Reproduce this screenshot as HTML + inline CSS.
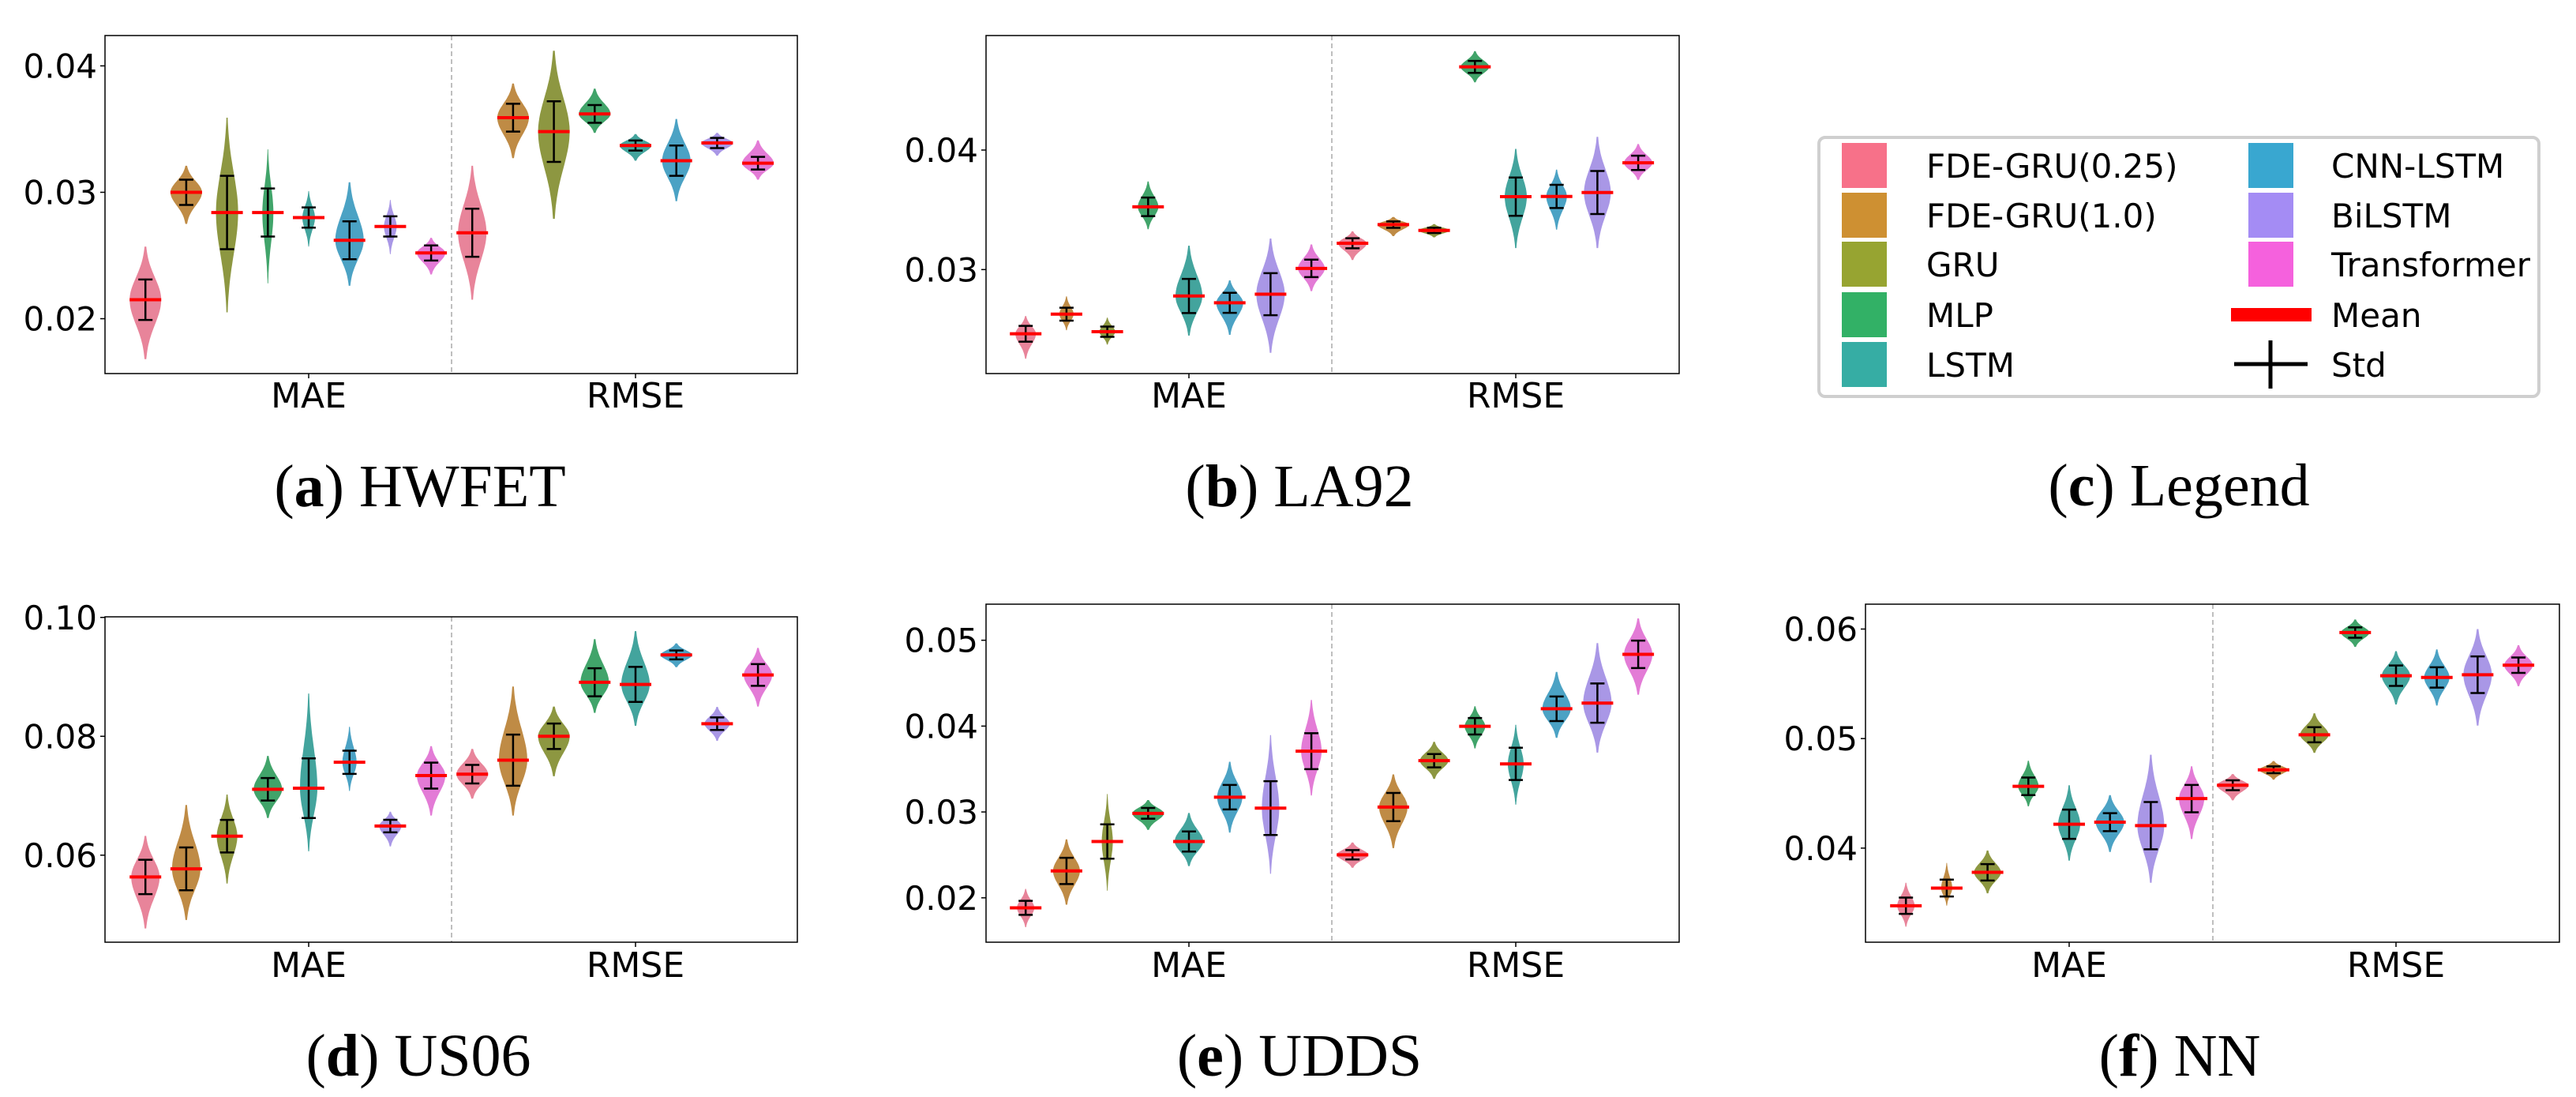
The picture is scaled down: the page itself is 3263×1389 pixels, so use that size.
<!DOCTYPE html>
<html><head><meta charset="utf-8"><style>
html,body{margin:0;padding:0;background:#fff;}
svg{display:block;}
</style></head><body>
<svg id="fig" width="3263" height="1389" viewBox="0 0 3263 1389" xmlns="http://www.w3.org/2000/svg">
<rect width="3263" height="1389" fill="#fff"/>
<g id="legend">
 <rect x="2304" y="174" width="912" height="328" rx="8" fill="#fff" stroke="#cfcfcf" stroke-width="4"/>
</g>
</svg>
<script>
// ---- data (index 0-7: MAE hues, 8-15: RMSE hues) ----
const models = ['FDE-GRU(0.25)','FDE-GRU(1.0)','GRU','MLP','LSTM','CNN-LSTM','BiLSTM','Transformer'];
const metrics = ['MAE','RMSE'];
const captions = ['HWFET','LA92','US06','UDDS','NN'];
const captionLetters = ['a','b','d','e','f'];

const aMean=[0.0215,0.0300,0.0284,0.0284,0.0280,0.0262,0.0273,0.0252, 0.0268,0.0359,0.0348,0.0362,0.0337,0.0325,0.0339,0.0323];
const aStd =[0.0016,0.0010,0.0029,0.0019,0.0008,0.0015,0.0008,0.0006, 0.0019,0.0011,0.0024,0.0007,0.0004,0.0012,0.0004,0.0005];
const aHi  =[0.0257,0.0321,0.0359,0.0334,0.0301,0.0308,0.0294,0.0264, 0.0321,0.0386,0.0412,0.0382,0.0346,0.0358,0.0347,0.0341];
const aLo  =[0.0168,0.0275,0.0205,0.0228,0.0257,0.0226,0.0251,0.0235, 0.0215,0.0327,0.0279,0.0347,0.0325,0.0293,0.0329,0.0310];
const aDen =[1.0,1.0,0.7,0.35,0.4,0.9,0.4,0.9, 0.9,1.0,1.0,1.0,1.0,0.9,1.0,1.0];

const bMean=[0.02463,0.02627,0.0248,0.03525,0.02779,0.02722,0.02794,0.0301, 0.0322,0.03376,0.03328,0.04696,0.0361,0.03612,0.03645,0.03893];
const bStd =[0.00066,0.00054,0.00043,0.00078,0.00143,0.00084,0.00176,0.00073, 0.00042,0.00027,0.00022,0.0005,0.0016,0.00097,0.0018,0.0006];
const bHi  =[0.02612,0.02776,0.02597,0.03737,0.0320,0.0291,0.0326,0.0321, 0.0332,0.0344,0.0338,0.04827,0.0401,0.03836,0.0411,0.0405];
const bLo  =[0.02254,0.02493,0.02373,0.03337,0.02448,0.02454,0.02304,0.0282, 0.0308,0.0328,0.0327,0.04567,0.0318,0.03334,0.0318,0.0375];
const bDen =[0.65,0.45,0.5,0.65,0.85,0.85,0.9,0.85, 0.9,1.0,1.0,0.9,0.7,0.65,0.85,0.9];

const dMean=[0.05634,0.0577,0.06319,0.07109,0.07127,0.07563,0.0649,0.07339, 0.07363,0.07599,0.0800,0.08909,0.08873,0.09369,0.08212,0.09032];
const dStd =[0.00289,0.0036,0.00274,0.00189,0.00501,0.00195,0.00106,0.00218, 0.00156,0.0043,0.00214,0.00236,0.00295,0.00074,0.00106,0.00183];
const dHi  =[0.06324,0.06844,0.07021,0.0767,0.0872,0.0816,0.06732,0.07835, 0.07788,0.08838,0.08501,0.09634,0.0977,0.09563,0.08496,0.09487];
const dLo  =[0.04767,0.04909,0.05522,0.06625,0.06065,0.0708,0.06147,0.06667, 0.0695,0.06667,0.07327,0.08395,0.08177,0.09162,0.07923,0.08501];
const dDen =[0.9,0.9,0.65,0.9,0.55,0.45,0.7,0.9, 1.0,0.9,1.0,0.9,0.9,1.0,0.8,0.9];

const eMean=[0.01883,0.02313,0.02656,0.02984,0.02656,0.03172,0.03045,0.03708, 0.02501,0.03057,0.03597,0.03998,0.0356,0.04202,0.04268,0.04836];
const eStd =[0.00082,0.00153,0.0020,0.00063,0.00117,0.00143,0.00313,0.00209, 0.00055,0.00164,0.00078,0.00096,0.00188,0.00143,0.00229,0.0016];
const eHi  =[0.02104,0.02681,0.03209,0.03139,0.02988,0.03585,0.03896,0.04305, 0.02644,0.03438,0.03818,0.04231,0.04014,0.04632,0.04967,0.05254];
const eLo  =[0.01658,0.0192,0.02084,0.02791,0.0237,0.02759,0.0228,0.03192, 0.0235,0.02579,0.03384,0.0374,0.03086,0.03863,0.03691,0.04366];
const eDen =[0.55,0.85,0.35,1.0,0.9,0.8,0.55,0.65, 1.0,0.9,0.9,0.65,0.5,0.9,0.9,0.9];

const fMean=[0.03474,0.03635,0.03779,0.04564,0.04218,0.04237,0.04205,0.04452, 0.04574,0.04715,0.05035,0.05968,0.05574,0.05558,0.05583,0.0567];
const fStd =[0.00074,0.00077,0.00075,0.0008,0.00133,0.00082,0.00216,0.00125, 0.00045,0.00031,0.00069,0.00047,0.00093,0.00093,0.00167,0.0007];
const fHi  =[0.03683,0.03865,0.03978,0.04798,0.04574,0.04484,0.04853,0.04747, 0.04676,0.04795,0.05231,0.06087,0.05798,0.05814,0.0600,0.05853];
const fLo  =[0.03282,0.03474,0.03587,0.04381,0.03885,0.03965,0.03683,0.04083, 0.04436,0.04625,0.04869,0.05837,0.05311,0.05301,0.05119,0.05478];
const fDen =[0.55,0.35,0.85,0.65,0.7,0.9,0.85,0.8, 1.0,0.9,0.9,0.9,0.9,0.8,0.9,0.9];

const aTicks=[0.02,0.03,0.04]; const aTickLabels=['0.02','0.03','0.04'];
const bTicks=[0.03,0.04]; const bTickLabels=['0.03','0.04'];
const dTicks=[0.06,0.08,0.10]; const dTickLabels=['0.06','0.08','0.10'];
const eTicks=[0.02,0.03,0.04,0.05]; const eTickLabels=['0.02','0.03','0.04','0.05'];
const fTicks=[0.04,0.05,0.06]; const fTickLabels=['0.04','0.05','0.06'];

const colors=['#e8849a','#bf8b45','#8d9741','#41a46a','#43a49d','#4ba2c4','#a997e6','#e37bd6'];
const legendColors=['#f77189','#ce9032','#97a431','#32b166','#36ada4','#39a7d0','#a48cf4','#f561dd'];

const NS='http://www.w3.org/2000/svg';
const svg=document.getElementById('fig');
function mk(tag,attrs,parent){const e=document.createElementNS(NS,tag);for(const k in attrs)e.setAttribute(k,attrs[k]);(parent||svg).appendChild(e);return e;}

const panels=[
 {id:'hwfet',x0:133,x1:1010,y0:45,y1:473,yMin:0.01566,yMax:0.0424,div:572,c:[391,805],capX:532,capY:641,labY:514,mean:aMean,std:aStd,hi:aHi,lo:aLo,den:aDen,ticks:aTicks,tl:aTickLabels},
 {id:'la92',x0:1249,x1:2127,y0:45,y1:473,yMin:0.02130,yMax:0.04958,div:1687,c:[1506,1920],capX:1646,capY:641,labY:514,mean:bMean,std:bStd,hi:bHi,lo:bLo,den:bDen,ticks:bTicks,tl:bTickLabels},
 {id:'us06',x0:133,x1:1010,y0:781,y1:1193,yMin:0.04536,yMax:0.1001,div:572,c:[391,805],capX:530,capY:1362,labY:1235,mean:dMean,std:dStd,hi:dHi,lo:dLo,den:dDen,ticks:dTicks,tl:dTickLabels},
 {id:'udds',x0:1249,x1:2127,y0:765,y1:1193,yMin:0.01483,yMax:0.05420,div:1687,c:[1506,1920],capX:1646,capY:1362,labY:1235,mean:eMean,std:eStd,hi:eHi,lo:eLo,den:eDen,ticks:eTicks,tl:eTickLabels},
 {id:'nn',x0:2363,x1:3242,y0:765,y1:1193,yMin:0.03141,yMax:0.06227,div:2803,c:[2621,3035],capX:2761,capY:1362,labY:1235,mean:fMean,std:fStd,hi:fHi,lo:fLo,den:fDen,ticks:fTicks,tl:fTickLabels}
];
const SP=51.7, MAXW=20;

panels.forEach((p,pi)=>{
 const g=mk('g',{});
 
 
 const Y=v=>p.y1-(v-p.yMin)/(p.yMax-p.yMin)*(p.y1-p.y0);
 // divider
 const dv=mk('line',{x1:p.div,x2:p.div,y1:p.y0,y2:p.y1,stroke:'#aaa','stroke-width':1.5,'stroke-dasharray':'6,4'},g);
 
 
 // violins
 for(let k=0;k<16;k++){
  const grp=k<8?0:1, h=k%8;
  const cx=p.c[grp]+(h-4)*SP;
  const m=p.mean[k], lo=p.lo[k], hi=p.hi[k], W=p.den[k]*MAXW;
  const su=(hi-m)/2.4, sd=(m-lo)/2.4;
  const N=40, right=[], left=[];
  for(let i=0;i<=N;i++){
   const v=lo+(hi-lo)*i/N;
   const s=v>m?su:sd;
   const w=W*Math.exp(-0.5*Math.pow((v-m)/s,2));
   right.push([cx+w,Y(v)]); left.push([cx-w,Y(v)]);
  }
  const pts=right.concat(left.reverse()).map(q=>q[0].toFixed(1)+','+q[1].toFixed(1)).join(' ');
  const vi=mk('polygon',{points:pts,fill:colors[h]},g);
  
  
  const top=Y(m+p.std[k]), bot=Y(m-p.std[k]);
  const sb=mk('path',{d:`M${cx},${top}V${bot}M${cx-9},${top}H${cx+9}M${cx-9},${bot}H${cx+9}`,stroke:'#000','stroke-width':2.5,fill:'none'},g);
  
  
  const ml=mk('line',{x1:cx-20,x2:cx+20,y1:Y(m),y2:Y(m),stroke:'#ff0000','stroke-width':4},g);
  
  
 }
 // axes box
 const bx=mk('rect',{x:p.x0,y:p.y0,width:p.x1-p.x0,height:p.y1-p.y0,fill:'none',stroke:'#000','stroke-width':1.5},g);
 
 
 // y ticks
 p.ticks.forEach((t,i)=>{
  const y=Y(t);
  mk('line',{x1:p.x0-6,x2:p.x0,y1:y,y2:y,stroke:'#000','stroke-width':1.5},g);
  const tx=mk('text',{x:p.x0-10,y:y+15,'text-anchor':'end','font-family':'DejaVu Sans, Liberation Sans, sans-serif','font-size':42},g);
  tx.textContent=p.tl[i];
  
  
 });
 // x labels
 metrics.forEach((mt,i)=>{
  mk('line',{x1:p.c[i],x2:p.c[i],y1:p.y1,y2:p.y1+6,stroke:'#000','stroke-width':1.5},g);
  const tx=mk('text',{x:p.c[i],y:p.labY+2,'text-anchor':'middle','font-family':'DejaVu Sans, Liberation Sans, sans-serif','font-size':44},g);
  tx.textContent=mt;
  
  
 });
 // caption
 const cap=mk('text',{x:p.capX,y:p.capY,'text-anchor':'middle','font-family':'Liberation Serif, serif','font-size':76},g);
 
 
 cap.innerHTML='(<tspan font-weight="bold">'+captionLetters[pi]+'</tspan>) '+captions[pi];
});

// legend
const lg=document.getElementById('legend');
const rowsY=[181,244,306,370,433];
models.forEach((m,i)=>{
 const col=i<5?0:1, r=i<5?i:i-5;
 const px=col?2848:2333;
 const pr=mk('rect',{x:px,y:rowsY[r],width:57,height:57,fill:legendColors[i]},lg);
 
 
 const t=mk('text',{x:col?2953:2440,y:rowsY[r]+44,'font-family':'DejaVu Sans, Liberation Sans, sans-serif','font-size':42},lg);
 t.textContent=m;
 
 
});
const mr=mk('rect',{x:2826,y:390,width:102,height:17,fill:'#ff0000'},lg);


const mt=mk('text',{x:2953,y:414,'font-family':'DejaVu Sans, Liberation Sans, sans-serif','font-size':42},lg);
mt.textContent='Mean';


const sc=mk('path',{d:'M2830,461H2923M2876,431V492',stroke:'#000','stroke-width':5,fill:'none'},lg);


const st=mk('text',{x:2953,y:477,'font-family':'DejaVu Sans, Liberation Sans, sans-serif','font-size':42},lg);
st.textContent='Std';


const lc=mk('text',{x:2760,y:640,'text-anchor':'middle','font-family':'Liberation Serif, serif','font-size':76});


lc.innerHTML='(<tspan font-weight="bold">c</tspan>) Legend';
</script>
</body></html>
